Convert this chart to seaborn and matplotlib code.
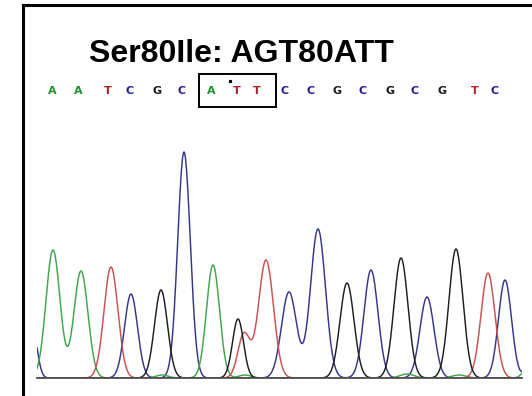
import numpy as np
import pandas as pd
import matplotlib
matplotlib.use("Agg")
import matplotlib.pyplot as plt
from matplotlib.lines import Line2D
from matplotlib.patches import Rectangle
from matplotlib.transforms import blended_transform_factory
import seaborn as sns

# ---- data -------------------------------------------------------------
title = "Ser80Ile: AGT80ATT"

# base calls printed above the trace and their scan positions
base_calls = ["A", "A", "T", "C", "G", "C", "A", "T", "T",
              "C", "C", "G", "C", "G", "C", "G", "T", "C"]
call_scans = [15, 41, 71, 93, 120, 145, 174, 200, 220,
              248, 274, 300, 326, 353, 378, 405, 438, 458]

# fluorescence peaks: dye channel, scan position, signal height, peak width
peak_base = ["C", "A", "A", "T", "C", "G", "C", "A", "G", "T", "T",
             "C", "C", "G", "C", "G", "C", "G", "T", "C",
             "A", "A", "A", "A", "A", "C"]
peak_scan = [-4, 16, 44, 74, 94, 124, 147, 176, 201, 207, 229,
             252, 281, 310, 334, 364, 390, 419, 451, 468,
             125, 208, 370, 422, 491, 490]
peak_height = [45, 128, 107, 111, 84, 88, 226, 113, 59, 44, 118,
               86, 149, 95, 108, 120, 81, 129, 105, 98,
               3, 3, 4, 3, 10, 9]
peak_width = [4.5, 7, 7, 7, 6.5, 6.5, 6.3, 6.5, 5.5, 6, 7.5,
              7.5, 7.5, 7, 7, 7, 7, 7, 7, 6.5,
              6, 6, 7, 7, 5, 3.5]

# ---- build the four dye traces ------------------------------------------
scan = np.linspace(0, 485, 2000)
frames = []
for base in ["A", "C", "G", "T"]:
    signal = np.zeros_like(scan)
    for b, p, h, w in zip(peak_base, peak_scan, peak_height, peak_width):
        if b == base:
            signal += h * np.exp(-0.5 * ((scan - p) / w) ** 2)
    frames.append(pd.DataFrame({"scan": scan, "signal": signal, "base": base}))
traces = pd.concat(frames, ignore_index=True)

trace_colors = {"A": "#3da64b", "C": "#35358c", "G": "#1e1e1e", "T": "#c9504f"}
letter_colors = {"A": "#1f8f2f", "C": "#1f1f90", "G": "#1a1a1a", "T": "#a8222e"}

# ---- figure -----------------------------------------------------------
W, H = 532, 396
fig = plt.figure(figsize=(W / 100, H / 100), dpi=100)
fig.patch.set_facecolor("white")

ax = fig.add_axes([37 / W, 18 / H, 485 / W, 248 / H])
sns.lineplot(data=traces, x="scan", y="signal", hue="base", palette=trace_colors,
             hue_order=["C", "A", "T", "G"], estimator=None, sort=False,
             legend=False, linewidth=1.05, ax=ax)
ax.set_xlim(0, 485)
ax.set_ylim(0, 248)
ax.set_xlabel("")
ax.set_ylabel("")
ax.set_xticks([])
ax.set_yticks([])
for side in ["top", "left", "right"]:
    ax.spines[side].set_visible(False)
ax.spines["bottom"].set_color("#505050")
ax.spines["bottom"].set_linewidth(1.3)
ax.set_facecolor("none")

# base-call letters above the trace
trans = blended_transform_factory(ax.transData, fig.transFigure)
for b, s in zip(base_calls, call_scans):
    ax.text(s, 1 - 90.5 / H, b, transform=trans, ha="center", va="center",
            fontsize=8, fontweight="bold", color=letter_colors[b],
            family=["Liberation Sans Narrow", "DejaVu Sans"], clip_on=False)

# box marking the mutated codon
box = Rectangle((162, 1 - 107 / H), 77, 33 / H, transform=trans, fill=False,
                edgecolor="black", linewidth=1.4, clip_on=False)
ax.add_patch(box)
ax.plot([193], [1 - 81 / H], marker="s", markersize=1.3, color="black",
        transform=trans, clip_on=False)

# title
fig.text(89 / W, 1 - 62 / H, title, ha="left", va="baseline", fontsize=23,
         fontweight="bold", family=["Liberation Sans", "DejaVu Sans"])

# outer frame lines
fig.add_artist(Line2D([23 / W, 23 / W], [0, 1 - 5 / H], color="black",
                      linewidth=2.2, transform=fig.transFigure))
fig.add_artist(Line2D([23 / W, 1], [1 - 5 / H, 1 - 5 / H], color="black",
                      linewidth=2.2, transform=fig.transFigure))

fig.savefig("out.png", dpi=100)
